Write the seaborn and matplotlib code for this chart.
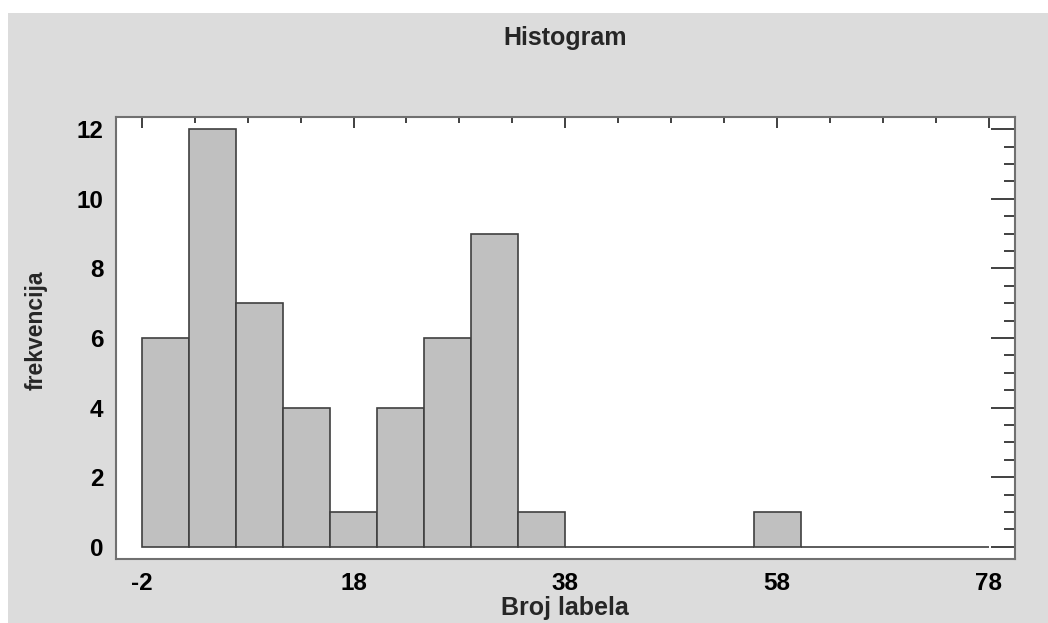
import numpy as np
import pandas as pd
import matplotlib
matplotlib.use("Agg")
import matplotlib.pyplot as plt
import seaborn as sns
from matplotlib.patches import Rectangle
from matplotlib.ticker import MultipleLocator, FixedLocator

# Data: histogram of "Broj labela" (18 bins from -2 to 78)
bin_edges = list(np.linspace(-2, 78, 19))
counts = [6, 12, 7, 4, 1, 4, 6, 9, 1, 0, 0, 0, 0, 1, 0, 0, 0, 0]
x_ticks = [-2, 18, 38, 58, 78]
y_ticks = [0, 2, 4, 6, 8, 10, 12]

centers = [(bin_edges[i] + bin_edges[i + 1]) / 2 for i in range(len(counts))]
df = pd.DataFrame({"Broj labela": centers, "frekvencija": counts})

sns.set_style("white")
plt.rcParams['font.family'] = ['Liberation Sans', 'DejaVu Sans']
plt.rcParams['axes.unicode_minus'] = False

fig = plt.figure(figsize=(10.48, 6.23), dpi=100, facecolor="white")
fig.patches.append(Rectangle((8 / 1048, 0), 1, (623 - 13) / 623,
                             transform=fig.transFigure, facecolor="#DCDCDC",
                             edgecolor="none", zorder=-10))

ax = fig.add_axes([116 / 1048, (623 - 559.3) / 623,
                   (1014.7 - 116) / 1048, (559.3 - 116.7) / 623])
ax.set_facecolor("white")

sns.histplot(data=df, x="Broj labela", weights="frekvencija", bins=bin_edges,
             color="#C0C0C0", alpha=1.0, edgecolor="#404040", linewidth=1.2,
             ax=ax)

ax.set_xlim(-4.43, 80.43)
ax.set_ylim(-0.36, 12.36)

ax.xaxis.set_major_locator(FixedLocator(x_ticks))
ax.xaxis.set_minor_locator(FixedLocator(list(np.arange(-2, 79, 5))))
ax.yaxis.set_major_locator(FixedLocator(y_ticks))
ax.yaxis.set_minor_locator(MultipleLocator(0.5))

ax.tick_params(axis="both", which="both", direction="in", top=True, right=True,
               colors="#202020", labelcolor="black")
ax.tick_params(axis="y", which="major", length=17, width=1.2, labelsize=17.5, pad=9)
ax.tick_params(axis="y", which="minor", length=8, width=1.2)
ax.tick_params(axis="x", which="major", length=8, width=1.2, labelsize=17.5, pad=9)
ax.tick_params(axis="x", which="minor", length=4, width=1.2)
for lab in ax.get_xticklabels() + ax.get_yticklabels():
    lab.set_fontweight("bold")

for s in ax.spines.values():
    s.set_visible(True)
    s.set_color("#707070")
    s.set_linewidth(1.5)

ax.set_xlabel("Broj labela", fontsize=18, fontweight="bold", labelpad=1)
ax.set_ylabel("")
fig.text(36 / 1048, 1 - 330 / 623, "frekvencija", rotation=90, ha="center",
         va="center", fontsize=16.5, fontweight="bold")
fig.text((116 + 1014.7) / 2 / 1048, 1 - 38 / 623, "Histogram", ha="center",
         va="center", fontsize=18, fontweight="bold")

fig.savefig("out.png", dpi=100, facecolor=fig.get_facecolor())
